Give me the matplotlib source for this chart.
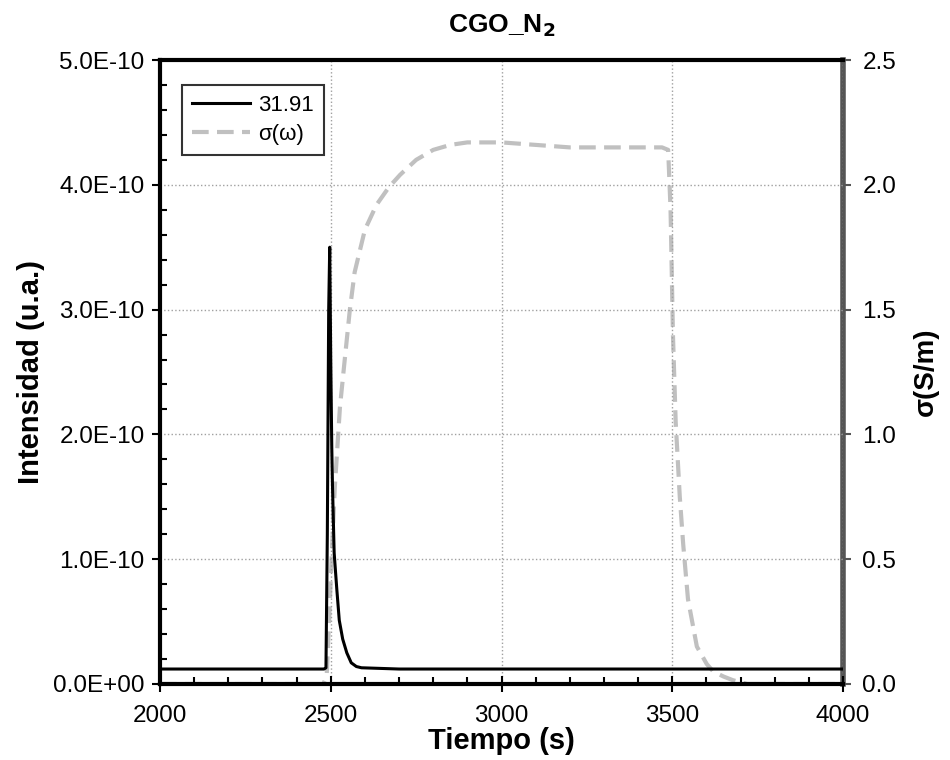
import numpy as np
import matplotlib
matplotlib.use('Agg')
import matplotlib.pyplot as plt
from matplotlib.ticker import MultipleLocator, FuncFormatter

plt.rcParams['font.family'] = ['Liberation Sans', 'DejaVu Sans']

# m/z 31.91 signal (intensity, a.u.)
t_int = [2000, 2100, 2200, 2300, 2400, 2480, 2486, 2490, 2494, 2497, 2500, 2503,
         2505, 2510, 2518, 2525, 2535, 2547, 2560, 2575, 2590, 2700, 3000, 3500, 4000]
intens = [1.2e-11, 1.2e-11, 1.2e-11, 1.2e-11, 1.2e-11, 1.2e-11, 1.3e-11, 1.2e-10, 3.0e-10, 3.5e-10,
          2.6e-10, 1.9e-10, 1.6e-10, 1.05e-10, 0.75e-10, 0.51e-10, 0.36e-10, 0.25e-10, 0.17e-10,
          0.14e-10, 0.13e-10, 0.12e-10, 0.12e-10, 0.12e-10, 0.12e-10]

# conductivity sigma(omega), S/m
t_sig = [2000, 2400, 2478, 2488, 2495, 2503, 2512, 2527, 2541, 2556, 2570, 2600, 2634, 2670,
         2703, 2750, 2800, 2850, 2900, 2950, 3000, 3100, 3200, 3300, 3400, 3470, 3488,
         3495, 3502, 3510, 3522, 3532, 3546, 3572, 3601, 3620, 3650, 3678, 3720, 4000]
sigma = [0.0, 0.0, 0.0, 0.03, 0.25, 0.52, 0.79, 1.11, 1.30, 1.50, 1.65, 1.82, 1.92, 1.99,
         2.04, 2.10, 2.14, 2.16, 2.17, 2.17, 2.17, 2.16, 2.15, 2.15, 2.15, 2.15, 2.14,
         1.90, 1.40, 1.05, 0.75, 0.56, 0.34, 0.15, 0.08, 0.05, 0.03, 0.015, 0.0, 0.0]

fig = plt.figure(figsize=(9.5, 7.6), dpi=100)
ax = fig.add_axes([0.1684, 0.1, 0.7190, 0.821])
ax2 = ax.twinx()

l1, = ax.plot(t_int, intens, color='black', lw=2.2, label='31.91', zorder=3)
l2, = ax2.plot(t_sig, sigma, color='#c0c0c0', lw=3, ls=(0, (4, 2)), label='σ(ω)', zorder=2)
ax.set_zorder(ax2.get_zorder() + 1)
ax.patch.set_visible(False)

ax.set_xlim(2000, 4000)
ax.set_ylim(0, 5e-10)
ax2.set_ylim(0, 2.5)

ax.xaxis.set_major_locator(MultipleLocator(500))
ax.xaxis.set_minor_locator(MultipleLocator(100))
ax.yaxis.set_major_locator(MultipleLocator(1e-10))
ax.yaxis.set_minor_locator(MultipleLocator(0.2e-10))
ax2.yaxis.set_major_locator(MultipleLocator(0.5))

def sci(v, pos):
    if v == 0:
        return '0.0E+00'
    s = '%.1E' % v
    m, e = s.split('E')
    return '%sE-%02d' % (m, abs(int(e))) if int(e) < 0 else s

ax.yaxis.set_major_formatter(FuncFormatter(sci))
ax2.yaxis.set_major_formatter(FuncFormatter(lambda v, p: '%.1f' % v))

ax.grid(True, which='major', color='#a0a0a0', ls=':', lw=1)
ax.tick_params(axis='y', which='major', labelsize=17.5, length=6, width=1.5, direction='out', pad=5)
ax.tick_params(axis='x', which='major', labelsize=17.5, direction='inout', length=12, width=1.5, pad=9)
ax.tick_params(axis='both', which='minor', length=5, width=1.5, direction='in')
ax2.tick_params(axis='y', which='major', labelsize=17.5, length=6, width=1.5, direction='out',
                color='#555555', pad=8)

for s in ['left', 'top', 'bottom']:
    ax.spines[s].set_linewidth(3)
    ax.spines[s].set_color('black')
ax.spines['right'].set_visible(False)
for s in ['left', 'top', 'bottom']:
    ax2.spines[s].set_visible(False)
ax2.spines['right'].set_linewidth(4)
ax2.spines['right'].set_color('#555555')

ax.set_xlabel('Tiempo (s)', fontsize=21, fontweight='bold', labelpad=0)
ax.set_ylabel('Intensidad (u.a.)', fontsize=21, fontweight='bold', labelpad=6)
ax2.set_ylabel('σ(S/m)', fontsize=20, fontweight='bold', labelpad=12)
ax.set_title('CGO_N$_\\mathbf{2}$', fontsize=19, fontweight='bold', pad=20)

leg = ax.legend([l1, l2], ['31.91', 'σ(ω)'], loc='upper left', bbox_to_anchor=(0.032, 0.96),
                borderaxespad=0, fontsize=16, frameon=True, fancybox=False, handlelength=2.6,
                handletextpad=0.4, borderpad=0.45, labelspacing=0.35)
leg.get_frame().set_edgecolor('black')
leg.get_frame().set_linewidth(1.5)

fig.savefig('out.png', dpi=100)
